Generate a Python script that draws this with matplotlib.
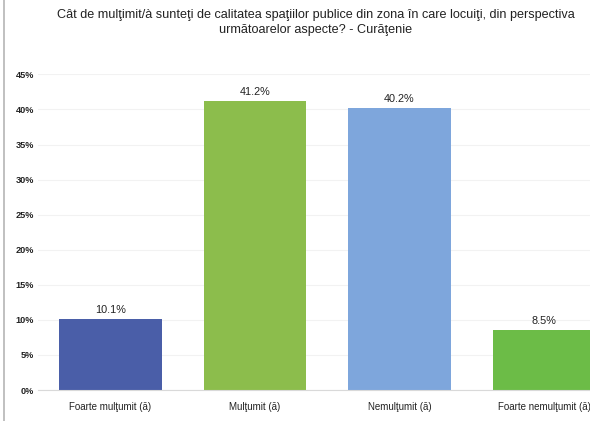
import matplotlib
matplotlib.use("Agg")
import matplotlib.pyplot as plt
from matplotlib.lines import Line2D
from matplotlib.ticker import MultipleLocator, FuncFormatter

categories = ["Foarte mulţumit (ă)", "Mulţumit (ă)", "Nemulţumit (ă)", "Foarte nemulţumit (ă)"]
values = [10.1, 41.2, 40.2, 8.5]
labels = ["10.1%", "41.2%", "40.2%", "8.5%"]
colors = ["#4a5ea8", "#8cbd4c", "#7ea6dc", "#6cbc47"]
title = ("Cât de mulţimit/à sunteţi de calitatea spaţiilor publice din zona în care locuiţi, din perspectiva\n"
         "următoarelor aspecte? - Curăţenie")

plt.rcParams['font.family'] = ['Liberation Sans', 'DejaVu Sans']

fig = plt.figure(figsize=(5.9, 4.21), dpi=100)
W, H = 590, 421
ax = fig.add_axes([38.25 / W, 1 - 390 / H, 1 - 38.25 / W, (390 - 74.4) / H])

x = list(range(len(categories)))
ax.bar(x, values, width=0.71, color=colors, zorder=2)
for xi, v, lab in zip(x, values, labels):
    ax.text(xi, v + 0.6, lab, ha='center', va='bottom', fontsize=7.8, color='#222222')

ax.set_xlim(-0.5, 3.318)
ax.set_ylim(0, 45)
ax.yaxis.set_major_locator(MultipleLocator(5))
ax.yaxis.set_major_formatter(FuncFormatter(lambda v, p: f"{int(round(v))}%"))
ax.set_xticks(x)
ax.set_xticklabels(categories, fontsize=7, color='#222222')
for t in ax.get_yticklabels():
    t.set_fontsize(6.6)
    t.set_fontweight('bold')
    t.set_color('#222222')
ax.tick_params(axis='x', length=0, pad=9)
ax.tick_params(axis='y', length=0, pad=3)
ax.grid(axis='y', color='#f2f2f2', linewidth=0.8, zorder=0)
for s in ['top', 'right', 'left']:
    ax.spines[s].set_visible(False)
ax.spines['bottom'].set_color('#d9d9d9')

fig.text(316 / W, 1 - 9 / H, title, ha='center', va='top', fontsize=9.1, color='#222222', linespacing=1.35)
fig.add_artist(Line2D([4 / W, 4 / W], [0, 1], transform=fig.transFigure, color='#b5b5b5', linewidth=1.2))

fig.savefig("out.png", dpi=100)
